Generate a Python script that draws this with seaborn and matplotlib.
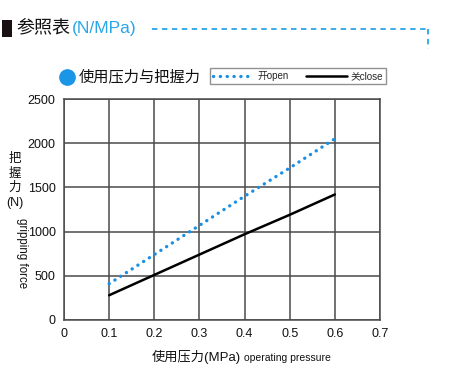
import matplotlib
matplotlib.use("Agg")
import matplotlib.pyplot as plt
import seaborn as sns
import pandas as pd
from matplotlib.lines import Line2D
from matplotlib.patches import Rectangle

pressure = [0.1, 0.2, 0.3, 0.4, 0.5, 0.6]
force_open = [410, 740, 1070, 1400, 1720, 2050]
force_close = [280, 510, 740, 970, 1190, 1420]
x_ticks = [0, 0.1, 0.2, 0.3, 0.4, 0.5, 0.6, 0.7]
x_tick_labels = ["0", "0.1", "0.2", "0.3", "0.4", "0.5", "0.6", "0.7"]
y_ticks = [0, 500, 1000, 1500, 2000, 2500]
labels = ["开open", "关close"]

sns.set_theme(style="white")
plt.rcParams['font.family'] = ['Liberation Sans', 'Noto Sans CJK SC', 'DejaVu Sans']

W, H = 471, 391
fig = plt.figure(figsize=(W / 100, H / 100), dpi=100)
ax = fig.add_axes([64 / W, 1 - 320 / H, (380 - 64) / W, (320 - 99) / H])

df_open = pd.DataFrame({"p": pressure, "f": force_open})
df_close = pd.DataFrame({"p": pressure, "f": force_close})
blue = "#1b8fe3"
sns.lineplot(data=df_open, x="p", y="f", ax=ax, color=blue, lw=2.4,
             linestyle=(0, (0.05, 2.0)), label=labels[0], dash_capstyle="round")
sns.lineplot(data=df_close, x="p", y="f", ax=ax, color="black", lw=1.8,
             label=labels[1])

ax.set_xlim(0, 0.7)
ax.set_ylim(0, 2500)
ax.set_xticks(x_ticks)
ax.set_xticklabels(x_tick_labels)
ax.set_yticks(y_ticks)
ax.grid(True, color="#4a4a4a", lw=1.1)
ax.set_axisbelow(True)
for s in ax.spines.values():
    s.set_visible(True)
    s.set_color("#4a4a4a")
    s.set_linewidth(1.1)
ax.tick_params(axis="both", length=0, labelsize=9, colors="#111111", pad=6)
ax.set_xlabel("")
ax.set_ylabel("")

h, l = ax.get_legend_handles_labels()
ax.get_legend().remove()
leg = fig.legend(h, l, loc="center", bbox_to_anchor=(298 / W, 1 - 76 / H), ncol=2,
                 frameon=True, fancybox=False, edgecolor="#777777", fontsize=7,
                 handlelength=4.2, columnspacing=1.8, handletextpad=0.4,
                 borderpad=0.3, borderaxespad=0)
leg.get_frame().set_linewidth(1.0)

# title
fig.patches.append(Rectangle((2 / W, 1 - 37 / H), 10 / W, 17 / H, transform=fig.transFigure,
                             facecolor="#1a1212", edgecolor="none"))
fig.text(16 / W, 1 - 28 / H, "参照表", fontsize=13, va="center", ha="left", color="#111111")
fig.text(72 / W, 1 - 29 / H, "(N/MPa)", fontsize=12.5, va="center", ha="left", color="#2aa6e6")
cyan = "#2aa6e6"
fig.add_artist(Line2D([152 / W, 428 / W], [1 - 29 / H, 1 - 29 / H], transform=fig.transFigure,
                      color=cyan, lw=1.3, linestyle=(0, (3, 2.5))))
fig.add_artist(Line2D([428 / W, 428 / W], [1 - 29 / H, 1 - 49 / H], transform=fig.transFigure,
                      color=cyan, lw=1.3, linestyle=(0, (3, 2.5))))

# legend title with dot
fig.add_artist(Line2D([67 / W], [1 - 77 / H], transform=fig.transFigure, marker="o",
                      markersize=11, color="#1b95e6", linestyle="none"))
fig.text(79 / W, 1 - 77 / H, "使用压力与把握力", fontsize=11, va="center", ha="left", color="#111111")

# y label
fig.text(15 / W, 1 - 181 / H, "把\n握\n力\n(N)", fontsize=9, va="center", ha="center",
         color="#111111", linespacing=1.25)
fig.text(22 / W, 1 - 253 / H, "gripping force", fontsize=8.3, va="center", ha="center",
         rotation=270, color="#111111")

# x label
fig.text(152 / W, 1 - 357 / H, "使用压力(MPa)", fontsize=9.5, va="center", ha="left", color="#111111")
fig.text(244 / W, 1 - 358 / H, "operating pressure", fontsize=7.5, va="center", ha="left", color="#111111")

fig.savefig("out.png", dpi=100, facecolor="white")
